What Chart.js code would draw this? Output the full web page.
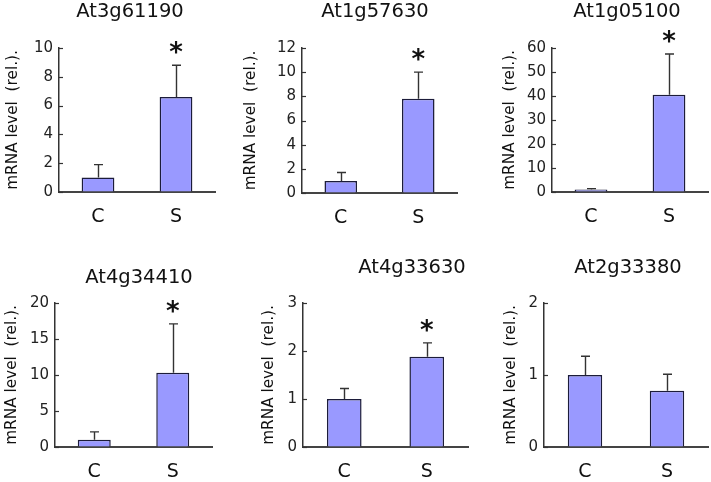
<!DOCTYPE html>
<html>
<head>
<meta charset="utf-8">
<script src="https://cdn.jsdelivr.net/npm/chart.js@4.4.1/dist/chart.umd.min.js"></script>
<style>
  html, body { margin: 0; padding: 0; background: #fff; }
  #wrap { position: relative; width: 711px; height: 482px; overflow: hidden; }
  #wrap canvas { position: absolute; }
</style>
</head>
<body>
<div id="wrap"></div>
<script>
// data
const genes = ['At3g61190', 'At1g57630', 'At1g05100', 'At4g34410', 'At4g33630', 'At2g33380'];
const categories = ['C', 'S'];
const meanC = [1.0, 1.0, 1.0, 1.0, 1.0, 1.0];
const meanS = [6.6, 7.8, 40.5, 10.3, 1.88, 0.78];
const errC = [0.9, 0.7, 0.4, 1.1, 0.22, 0.26];
const errS = [2.2, 2.2, 17.0, 6.8, 0.29, 0.23];
const yMax = [10, 12, 60, 20, 3, 2];
const yStep = [2, 2, 10, 5, 1, 1];
const starS = [true, true, true, true, true, false];

// panel placement on the page (plot box, title, axis title)
const panels = [
  { l: 59, t: 48, r: 215, b: 192, tx: 130, ty: 17, ax: 13 },
  { l: 302, t: 48, r: 457, b: 193, tx: 375, ty: 17, ax: 251 },
  { l: 552, t: 48, r: 708, b: 192, tx: 627, ty: 17, ax: 510 },
  { l: 55, t: 303, r: 212, b: 447, tx: 139, ty: 283, ax: 12 },
  { l: 303, t: 303, r: 468, b: 447, tx: 412, ty: 273, ax: 269 },
  { l: 544, t: 303, r: 708, b: 447, tx: 628, ty: 273, ax: 511 }
];

const FONT = 'DejaVu Sans';
const XH = 30;
const AXT = 15.3;

const extras = {
  id: 'extras',
  afterDatasetsDraw(chart, args, opts) {
    const ctx = chart.ctx;
    const y = chart.scales.y;
    const i = opts.idx;
    const meta = chart.getDatasetMeta(0);
    const means = [meanC[i], meanS[i]];
    const errs = [errC[i], errS[i]];
    ctx.save();
    // inward tick marks on the y axis
    ctx.strokeStyle = '#333';
    ctx.lineWidth = 1.2;
    y.ticks.forEach(t => {
      const py = Math.round(y.getPixelForValue(t.value)) + 0.5;
      ctx.beginPath();
      ctx.moveTo(chart.chartArea.left, py);
      ctx.lineTo(chart.chartArea.left + 4, py);
      ctx.stroke();
    });
    // error bars (upper only)
    ctx.strokeStyle = '#333';
    ctx.lineWidth = 1.4;
    meta.data.forEach((bar, k) => {
      const cx = Math.round(bar.x) + 0.5;
      const y0 = y.getPixelForValue(means[k]);
      const y1 = y.getPixelForValue(means[k] + errs[k]);
      ctx.beginPath();
      ctx.moveTo(cx, y0);
      ctx.lineTo(cx, y1);
      ctx.moveTo(cx - 4.5, y1);
      ctx.lineTo(cx + 4.5, y1);
      ctx.stroke();
    });
    // significance star
    if (starS[i]) {
      const bar = meta.data[1];
      const y1 = y.getPixelForValue(meanS[i] + errS[i]);
      ctx.fillStyle = '#111';
      ctx.font = 'bold 26px ' + FONT;
      ctx.textAlign = 'center';
      ctx.textBaseline = 'alphabetic';
      ctx.fillText('*', bar.x, y1 - 4);
    }
    // panel title
    ctx.fillStyle = '#111';
    ctx.font = '19.5px ' + FONT;
    ctx.textAlign = 'center';
    ctx.textBaseline = 'alphabetic';
    ctx.fillText(genes[i], opts.tx, opts.ty);
    ctx.restore();
  }
};

const wrap = document.getElementById('wrap');

genes.forEach((gene, i) => {
  const p = panels[i];
  const cxp = [0, 237, 474][i % 3];
  const cyp = i < 3 ? 0 : 241;
  const cw = 237, ch = 241;
  const canvas = document.createElement('canvas');
  canvas.width = cw;
  canvas.height = ch;
  canvas.style.left = cxp + 'px';
  canvas.style.top = cyp + 'px';
  wrap.appendChild(canvas);

  const titleHalf = AXT * 1.2 / 2;
  const padL = p.ax - titleHalf - cxp;
  const yw = p.l - p.ax + titleHalf;

  new Chart(canvas, {
    type: 'bar',
    data: {
      labels: categories,
      datasets: [{
        data: [meanC[i], meanS[i]],
        backgroundColor: '#9999ff',
        borderColor: '#1c1c3a',
        borderWidth: 1.5,
        borderSkipped: 'bottom',
        categoryPercentage: 1.0,
        barPercentage: 0.42
      }]
    },
    options: {
      responsive: false,
      animation: false,
      devicePixelRatio: 1,
      events: [],
      layout: {
        padding: {
          left: padL,
          right: cxp + cw - p.r,
          top: p.t - cyp,
          bottom: cyp + ch - p.b - XH
        }
      },
      plugins: {
        legend: { display: false },
        tooltip: { enabled: false },
        title: { display: false },
        extras: { idx: i, tx: p.tx - cxp, ty: p.ty - cyp }
      },
      scales: {
        x: {
          grid: { display: true, drawOnChartArea: false, drawTicks: false },
          border: { display: true, color: '#444', width: 2 },
          ticks: { color: '#111', font: { family: FONT, size: 19 }, padding: 14 },
          afterFit: s => { s.height = XH; }
        },
        y: {
          min: 0,
          max: yMax[i],
          grid: { display: true, drawOnChartArea: false, drawTicks: false },
          border: { display: true, color: '#333', width: 1.5 },
          ticks: { stepSize: yStep[i], color: '#222', font: { family: FONT, size: 15 }, padding: 6 },
          title: {
            display: true,
            text: 'mRNA level  (rel.).',
            color: '#111',
            font: { family: FONT, size: AXT },
            padding: 0
          },
          afterFit: s => { s.width = yw; }
        }
      }
    },
    plugins: [extras]
  });
});
</script>
</body>
</html>
